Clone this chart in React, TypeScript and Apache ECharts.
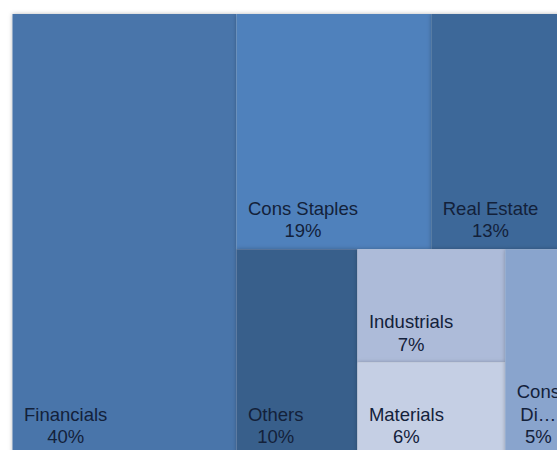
import React, { useEffect, useRef } from 'react';
import * as echarts from 'echarts';

// Sector names, the text shown in each cell, and the weights (percent of portfolio)
const sectors = ['Financials', 'Cons Staples', 'Real Estate', 'Others', 'Industrials', 'Materials', 'Cons Discretionary'];
const shownNames = ['Financials', 'Cons Staples', 'Real Estate', 'Others', 'Industrials', 'Materials', 'Cons\nDi…'];
const weights = [40.1, 18.6, 13.3, 10.1, 6.8, 5.55, 5.45];
const colors = ['#4875aa', '#4f81bc', '#3e6899', '#395e8b', '#adbbd9', '#c5cfe4', '#89a4cd'];

const FONT_FAMILY = 'Liberation Sans';
const FONT_SIZE = 18.5;
const TEXT_COLOR = '#13213a';

function blockWidth(text: string): number {
  const ctx = document.createElement('canvas').getContext('2d');
  if (!ctx) return 0;
  ctx.font = `${FONT_SIZE}px "${FONT_FAMILY}", Arial, sans-serif`;
  return Math.max(...text.split('\n').map((l) => ctx.measureText(l).width));
}

export default function App() {
  const ref = useRef<HTMLDivElement>(null);

  useEffect(() => {
    if (!ref.current) return;
    document.body.style.margin = '0';
    document.body.style.overflow = 'hidden';
    const chart = echarts.init(ref.current, undefined, { renderer: 'svg' });
    const total = weights.reduce((a, b) => a + b, 0);
    const data = sectors.map((name, i) => {
      const text = `${shownNames[i]}\n${Math.round((weights[i] / total) * 100)}%`;
      return {
        name,
        value: weights[i],
        itemStyle: { color: colors[i] },
        label: {
          formatter: text,
          offset: [blockWidth(text) / 2 + 4.5, 0],
        },
      };
    });
    chart.setOption({
      animation: false,
      tooltip: { show: false },
      series: [
        {
          type: 'treemap',
          left: 12.5,
          top: 14,
          width: 558,
          height: 441,
          roam: false,
          nodeClick: false,
          squareRatio: 1,
          sort: 'desc',
          breadcrumb: { show: false },
          itemStyle: {
            borderWidth: 0,
            gapWidth: 0,
            borderColor: 'rgba(0,0,0,0)',
            shadowBlur: 4,
            shadowColor: 'rgba(0,0,0,0.28)',
          },
          emphasis: { disabled: true },
          label: {
            show: true,
            position: 'insideBottomLeft',
            distance: 7,
            padding: 0,
            align: 'center',
            fontSize: FONT_SIZE,
            lineHeight: 22.5,
            fontFamily: `"${FONT_FAMILY}", Arial, sans-serif`,
            color: TEXT_COLOR,
            overflow: 'none',
          },
          data,
        },
      ],
    });
    return () => chart.dispose();
  }, []);

  return <div ref={ref} style={{ width: 557, height: 450, background: '#ffffff' }} />;
}
